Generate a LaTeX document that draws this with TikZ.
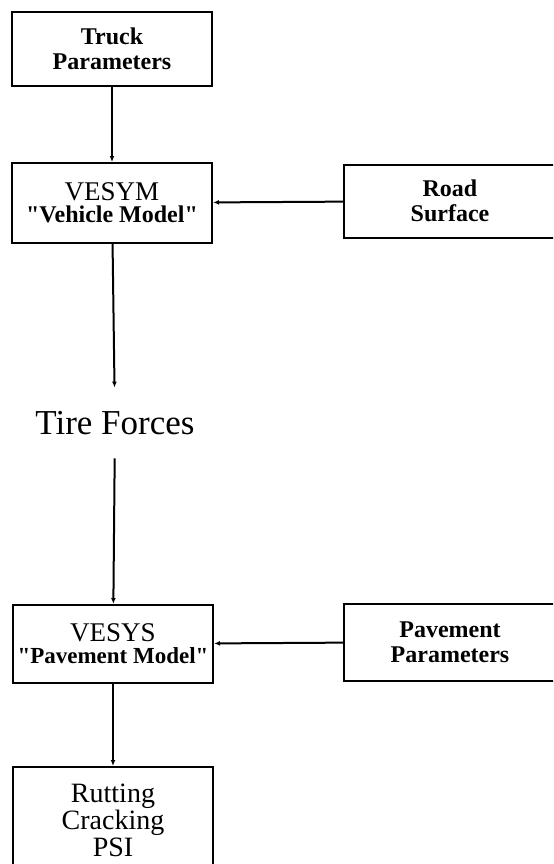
\documentclass[tikz,border=0pt]{standalone}
\usepackage{fontspec}
\setmainfont{Liberation Serif}
\usetikzlibrary{arrows.meta, positioning}

\begin{document}
\begin{tikzpicture}[x=0.5pt, y=-0.5pt,
  block/.style={draw, line width=1pt, minimum width=100pt, align=center, inner sep=2pt, inner xsep=0pt},
  sidebox/.style={draw, line width=1pt, minimum width=106pt, align=center, inner sep=2pt},
  small/.style={font=\fontsize{12}{12.5}\selectfont\bfseries},
  flow/.style={line width=1pt, -{Latex[length=3pt, width=2.4pt]}}]
  \useasboundingbox (0,0) rectangle (553,864);
  \clip (0,0) rectangle (553,864);

  % Vehicle side
  \node[block, small, minimum height=37pt] (truck) at (112, 49) {Truck\\Parameters};
  \node[block, minimum height=40pt] (vesym) at (112, 203)
    {{\fontsize{13.5}{14}\selectfont VESYM}\\[-1pt]{\fontsize{12}{13}\selectfont\bfseries \textquotedbl Vehicle Model\textquotedbl}};
  \node[sidebox, small, minimum height=36.5pt] (road) at (450, 201) {Road\\Surface};

  % Tire forces
  \node[font=\fontsize{17.5}{18}\selectfont, minimum height=35pt, inner sep=0pt] (tire) at (115, 423) {Tire Forces};

  % Pavement side
  \node[block, minimum height=39pt] (vesys) at (113, 644)
    {{\fontsize{13.5}{14}\selectfont VESYS}\\[-1pt]{\fontsize{11.5}{13}\selectfont\bfseries \textquotedbl Pavement Model\textquotedbl}};
  \node[sidebox, small, minimum height=38.5pt] (pave) at (450, 642) {Pavement\\Parameters};
  \node[block, minimum height=53pt, font=\fontsize{14}{13.5}\selectfont] (rut) at (113, 820)
    {Rutting\\Cracking\\PSI};

  % Connectors
  \draw[flow] (truck) -- (vesym);
  \draw[flow] (road) -- (vesym);
  \draw[flow] (vesym) -- (tire);
  \draw[flow] (tire) -- (vesys);
  \draw[flow] (pave) -- (vesys);
  \draw[flow] (vesys) -- (rut);
\end{tikzpicture}
\end{document}
